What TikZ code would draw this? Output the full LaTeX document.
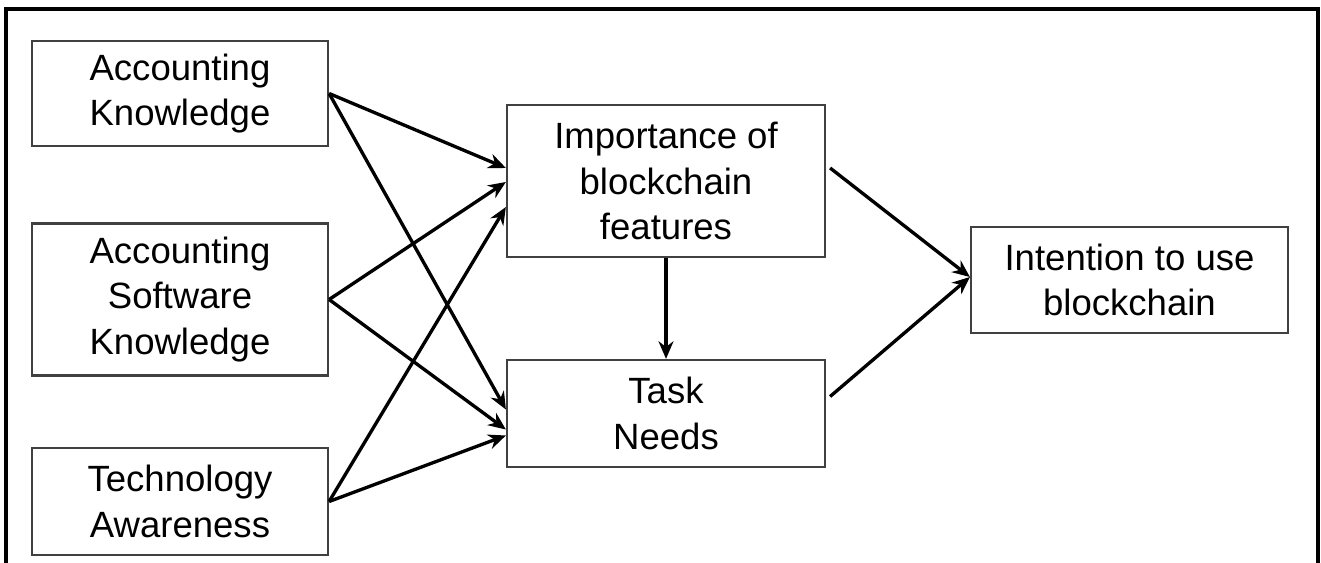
\documentclass[tikz,border=0pt]{standalone}
\usepackage{fontspec}
\setmainfont{Liberation Sans}
\usepackage{tikz}
\usetikzlibrary{calc}
\usetikzlibrary{arrows.meta,positioning}

\begin{document}
\begin{tikzpicture}[
    x=0.02cm, y=-0.02cm,
    box/.style={rectangle, draw=black!75, line width=1.3pt, align=center, inner sep=0pt,
        font=\fontsize{20.8}{26}\selectfont},
    arrow/.style={line width=1.9pt, -{Stealth[length=10pt, width=8.5pt]}},
    frame/.style={line width=2.6pt}
]
\useasboundingbox (0,0) rectangle (1321,563);

% Frame
\draw[frame] (6,580) -- (6,9) -- (1318,9) -- (1318,580);

% Nodes
\node[box, minimum width=5.92cm, minimum height=2.1cm] (ak) at (180, 93.5) {Accounting\\Knowledge};
\node[box, minimum width=5.92cm, minimum height=3.04cm] (ask) at (180, 299.5) {Accounting\\Software\\Knowledge};
\node[box, minimum width=5.92cm, minimum height=2.14cm] (ta) at (180, 501.5) {Technology\\Awareness};

\node[box, minimum width=6.36cm, minimum height=3.04cm] (ibf) at (666, 181) {Importance of\\blockchain\\features};
\node[box, minimum width=6.36cm, minimum height=2.14cm] (tn) at (666, 413.5) {Task\\Needs};

\node[box, minimum width=6.34cm, minimum height=2.12cm] (itu) at (1129.5, 280) {Intention to use\\blockchain};

% Arrows into importance of blockchain features
\draw[arrow] (ak.east) -- ($(ibf.west)+(0,-13)$);
\draw[arrow] (ask.east) -- ($(ibf.west)+(0,1)$);
\draw[arrow] (ta.east) -- ($(ibf.west)+(0,26)$);

% Arrows into task needs
\draw[arrow] (ak.east) -- ($(tn.west)+(0,-4)$);
\draw[arrow] (ask.east) -- ($(tn.west)+(0,16)$);
\draw[arrow] (ta.east) -- ($(tn.west)+(0,22)$);

% Middle arrow
\draw[arrow] (ibf.south) -- (tn.north);

% Arrows into intention
\draw[arrow] ($(ibf.east)+(4,-13)$) -- ($(itu.west)+(0,-3)$);
\draw[arrow] ($(tn.east)+(4,-17)$) -- ($(itu.west)+(0,-3)$);

\end{tikzpicture}
\end{document}
